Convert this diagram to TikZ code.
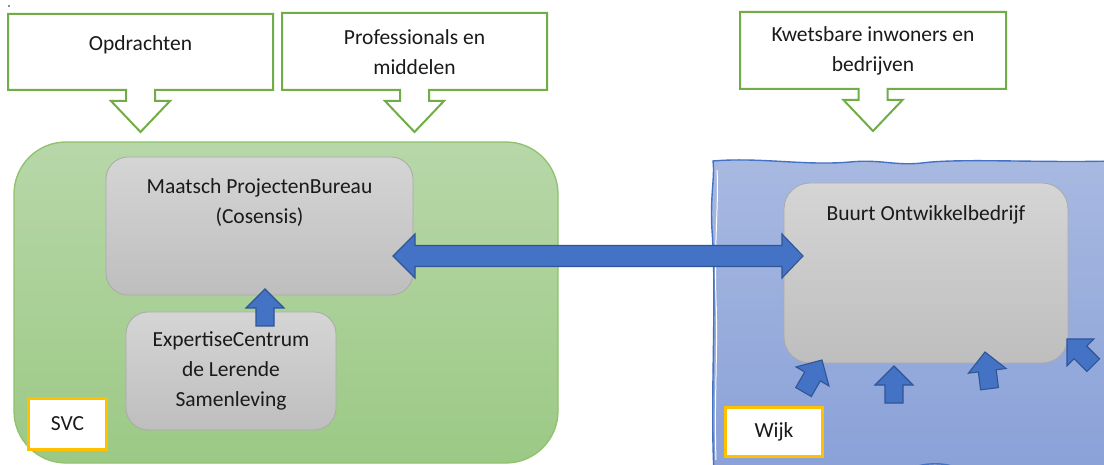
\documentclass[tikz,border=0pt]{standalone}
\usepackage{fontspec}
\setmainfont{Carlito}
\usetikzlibrary{calc}
\definecolor{cgreen}{RGB}{112,173,71}
\definecolor{areagreenT}{RGB}{183,215,168}
\definecolor{areagreenB}{RGB}{156,201,133}
\definecolor{areagreenD}{RGB}{143,194,110}
\definecolor{areablueT}{RGB}{168,185,225}
\definecolor{areablueB}{RGB}{138,161,216}
\definecolor{blueline}{RGB}{68,114,196}
\definecolor{bluedark}{RGB}{47,85,151}
\definecolor{grayT}{RGB}{213,213,213}
\definecolor{grayB}{RGB}{190,190,190}
\definecolor{grayD}{RGB}{170,170,170}
\definecolor{orng}{RGB}{255,192,0}
\definecolor{txt}{RGB}{26,26,26}
\tikzset{
  calloutbox/.style={rectangle, draw=none, outer sep=0pt, inner sep=0pt},
  callout/.style={draw=cgreen, line width=2pt, fill=white, line join=miter},
  graybox/.style={rectangle, rounded corners=22pt, draw=grayD, line width=0.8pt,
     top color=grayT, bottom color=grayB, outer sep=0pt, text=txt},
  tagbox/.style={rectangle, draw=orng, line width=2.5pt, fill=white, outer sep=0pt, text=txt},
  lbl/.style={text=txt, align=center, inner sep=0pt},
  barrow/.style={fill=blueline, draw=bluedark, line width=1.1pt, line join=miter},
  blockup/.pic={\draw[barrow] (0,0) -- (19,19) -- (9,19) -- (9,37) -- (-9,37) -- (-9,19) -- (-19,19) -- cycle;}
}
\newcommand\drawcallout[1]{%
  \draw[callout] (#1.north west) -- (#1.north east) -- (#1.south east)
   -- ($(#1.south)+(14.5,0)$) -- ($(#1.south)+(14.5,11)$) -- ($(#1.south)+(29.5,11)$)
   -- ($(#1.south)+(0,42)$) -- ($(#1.south)+(-29.5,11)$) -- ($(#1.south)+(-14.5,11)$)
   -- ($(#1.south)+(-14.5,0)$) -- (#1.south west) -- cycle;}
\begin{document}
\begin{tikzpicture}[x=1pt,y=-1pt,font=\fontsize{21.5}{30}\selectfont]
\useasboundingbox (0,0) rectangle (1104,465);
\fill[white] (0,0) rectangle (1104,465);

% stray dot
\fill[txt] (9,6) circle (0.8);

% callouts
\node[calloutbox, minimum width=265pt, minimum height=76pt] (c1) at (140.5,52) {};
\node[calloutbox, minimum width=265pt, minimum height=77pt] (c2) at (414.5,51.5) {};
\node[calloutbox, minimum width=266pt, minimum height=77pt] (c3) at (873,50.5) {};
\drawcallout{c1}
\drawcallout{c2}
\drawcallout{c3}
\node[lbl] (t1) at (140.5,45) {Opdrachten};
\node[lbl] (t2) at (414.5,52.5) {Professionals en\\middelen};
\node[lbl] (t3) at (873,51) {Kwetsbare inwoners en\\bedrijven};

% green area
\node[rectangle, rounded corners=52pt, draw=areagreenD, line width=1.3pt,
      top color=areagreenT, bottom color=areagreenB,
      minimum width=544pt, minimum height=321pt, outer sep=0pt] (svcarea) at (286,302.5) {};

% blue area (hand drawn border)
\path[top color=areablueT, bottom color=areablueB, draw=blueline, line width=1.4pt]
  (713,161) .. controls (760,157) and (805,166) .. (850,162)
  .. controls (880,159) and (895,166) .. (922,163)
  .. controls (960,158) and (1040,163) .. (1112,161)
  -- (1112,472) -- (714,472) .. controls (710,400) and (717,300) .. (712,230)
  .. controls (710,195) and (715,178) .. (713,161) -- cycle;
\draw[blueline, line width=1.4pt] (905,472) .. controls (920,461) and (950,461) .. (965,472);
\draw[white, line width=1pt] (717,170) .. controls (719,200) and (714,240) .. (716,300)
  .. controls (718,350) and (714,400) .. (716,460);
\draw[white, line width=0.8pt] (725,158) .. controls (780,155) and (820,160) .. (860,158);

% gray boxes
\node[graybox, minimum width=307pt, minimum height=138pt] (mpb) at (259.5,226) {};
\node[lbl] (mpbt) at (259.5,202.5) {Maatsch ProjectenBureau\\(Cosensis)};
\node[graybox, minimum width=210pt, minimum height=118pt, align=center] (ec) at (231,371)
  {ExpertiseCentrum\\de Lerende\\Samenleving};
\node[graybox, rounded corners=26pt, minimum width=284pt, minimum height=180pt] (bob) at (926,273) {};
\node[lbl] (bobt) at (926,215) {Buurt Ontwikkelbedrijf};

% tags
\node[tagbox, minimum width=78pt, minimum height=51pt] (svc) at (67.5,424) {SVC};
\node[tagbox, minimum width=97pt, minimum height=49pt] (wijk) at (774,432) {Wijk};

% arrow Expertise -> Maatsch
\path ($(mpb.south)+(5.5,-6)$) pic {blockup};

% double arrow
\coordinate (L) at ($(mpb.east)+(-20,30)$);
\coordinate (R) at ($(bob.west)+(19,-17)$);
\draw[barrow] (L) -- ($(L)+(22,-22)$) -- ($(L)+(22,-10.5)$) -- ($(R)+(-21,-10.5)$)
  -- ($(R)+(-21,-22)$) -- (R) -- ($(R)+(-21,22)$) -- ($(R)+(-21,10.5)$)
  -- ($(L)+(22,10.5)$) -- ($(L)+(22,22)$) -- cycle;

% small arrows into Buurt Ontwikkelbedrijf
\path (822,360) pic[rotate=-30] {blockup};
\path (894,366) pic {blockup};
\path (985,352) pic[rotate=7] {blockup};
\path (1067,339) pic[rotate=45] {blockup};
\end{tikzpicture}
\end{document}
